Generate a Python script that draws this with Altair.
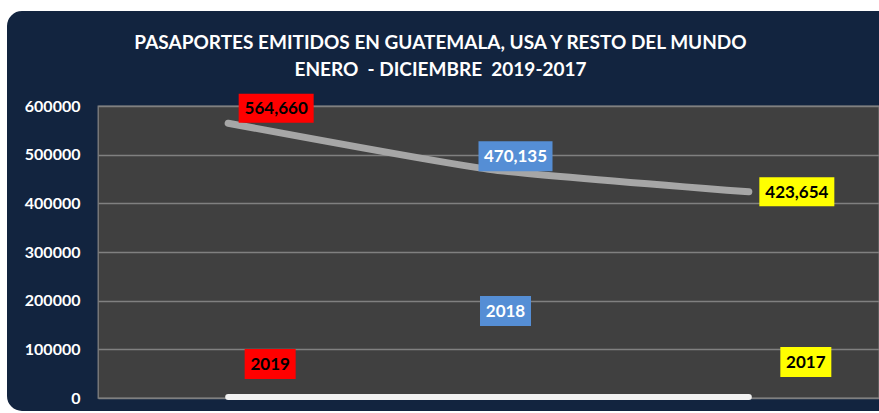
import altair as alt
import pandas as pd

# ---- data ----
years = ["2019", "2018", "2017"]
pasaportes = [564660, 470135, 423654]
base_line = [0, 0, 0]
y_ticks = [0, 100000, 200000, 300000, 400000, 500000, 600000]
title_lines = [
    "PASAPORTES EMITIDOS EN GUATEMALA, USA Y RESTO DEL MUNDO",
    "ENERO\u00a0 - DICIEMBRE\u00a0 2019-2017",
]

df = pd.DataFrame({"year": years, "value": pasaportes, "base": base_line})

# ---- style ----
W, H = 781, 292
FONT = "Lato"
NAVY = "#12243F"
PLOT_BG = "#404040"
GRID = "#808080"

# per-year label styling (box colour, text colour, offsets in px)
value_label_style = {
    "2019": dict(fill="#FF0000", text="#000000", w=75, h=29, dx=48, dy=-15),
    "2018": dict(fill="#558ED5", text="#FFFFFF", w=74, h=30, dx=27, dy=-13),
    "2017": dict(fill="#FFFF00", text="#000000", w=75, h=29, dx=48, dy=0),
}
year_label_style = {
    "2019": dict(fill="#FF0000", text="#000000", w=51, h=30, dx=42, dy=-34),
    "2018": dict(fill="#558ED5", text="#FFFFFF", w=51, h=30, dx=17, dy=-87),
    "2017": dict(fill="#FFFF00", text="#000000", w=51, h=30, dx=57, dy=-36),
}

x_enc = alt.X("year:N", sort=years, axis=None,
              scale=alt.Scale(type="point", padding=0.5))
y_scale = alt.Scale(domain=[0, 600000], nice=False, zero=True)

base = alt.Chart(df)

line = base.mark_line(color="#A6A6A6", strokeWidth=7, interpolate="cardinal",
                      tension=0.5, strokeCap="round").encode(
    x=x_enc,
    y=alt.Y("value:Q", scale=y_scale, title=None,
            axis=alt.Axis(values=y_ticks, format="d", labelColor="white",
                          labelFont=FONT, labelFontSize=16, labelFontWeight="bold",
                          labelPadding=18, ticks=False, domain=False, grid=True,
                          gridColor=GRID, gridWidth=1.3)),
)

zero_line = base.mark_line(color="#F2F2F2", strokeWidth=6, strokeCap="round",
                           yOffset=-1).encode(
    x=x_enc, y=alt.Y("base:Q", scale=y_scale))


def box_path(w, h):
    r = h / w
    return f"M-1,-{r:.4f}L1,-{r:.4f}L1,{r:.4f}L-1,{r:.4f}Z"


label_layers = []
for field, styles, fmt in [("value", value_label_style, ","),
                           ("base", year_label_style, None)]:
    for yr, st in styles.items():
        sub = base.transform_filter(alt.datum.year == yr)
        box = sub.mark_point(shape=box_path(st["w"], st["h"]), size=st["w"] ** 2,
                             filled=True, fill=st["fill"], opacity=1, strokeWidth=0,
                             xOffset=st["dx"], yOffset=st["dy"]).encode(
            x=x_enc, y=alt.Y(f"{field}:Q", scale=y_scale))
        if fmt:
            txt_enc = alt.Text(f"{field}:Q", format=fmt)
        else:
            txt_enc = alt.Text("year:N")
        txt = sub.mark_text(font=FONT, fontSize=17, fontWeight="bold",
                            color=st["text"], align="center", baseline="middle",
                            xOffset=st["dx"], yOffset=st["dy"] + 1).encode(
            x=x_enc, y=alt.Y(f"{field}:Q", scale=y_scale), text=txt_enc)
        label_layers += [box, txt]

# white outer margin with rounded corner around the navy panel
frame = alt.Chart(pd.DataFrame({"k": [0]})).mark_rect(
    fillOpacity=0, stroke="white", strokeWidth=40, cornerRadius=35).encode(
    x=alt.value(-111), x2=alt.value(W + 60), y=alt.value(-115), y2=alt.value(H + 33))

chart = alt.layer(zero_line, line, *label_layers, frame).properties(
    width=W, height=H,
    autosize=alt.AutoSizeParams(type="none"),
    padding={"left": 98, "top": 106, "right": 0, "bottom": 15},
    background=NAVY,
    title=alt.TitleParams(text=title_lines, color="white", font=FONT, fontSize=19,
                          fontWeight="bold", lineHeight=27, anchor="middle",
                          frame="group", dx=-48, offset=-109),
).configure_view(fill=PLOT_BG, stroke=GRID, strokeWidth=1.3)

chart.save("out.html", embed_options={"renderer": "svg", "actions": False})
